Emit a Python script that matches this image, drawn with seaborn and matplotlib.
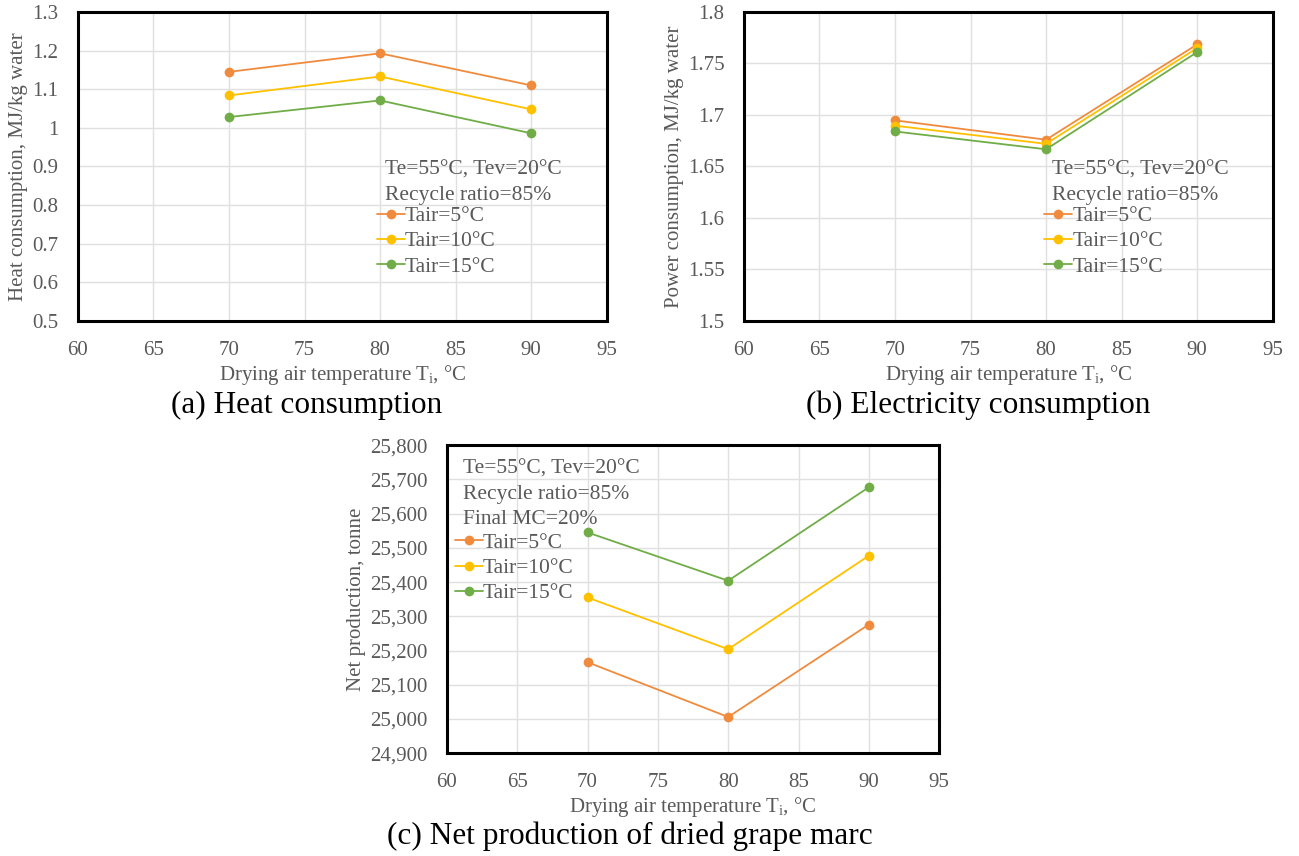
import matplotlib
matplotlib.use("Agg")
import matplotlib.pyplot as plt
from matplotlib.ticker import FuncFormatter, MultipleLocator
from matplotlib.lines import Line2D
import seaborn as sns
import pandas as pd

# Drying air temperature (°C)
drying_temp = [70, 80, 90]
# Ambient air temperature series
tair_labels = ["Tair=5°C", "Tair=10°C", "Tair=15°C"]

# (a) Heat consumption, MJ/kg water
heat_5 = [1.145, 1.193, 1.110]
heat_10 = [1.084, 1.133, 1.048]
heat_15 = [1.028, 1.071, 0.986]

# (b) Power consumption, MJ/kg water
power_5 = [1.6948, 1.6760, 1.7685]
power_10 = [1.6896, 1.6720, 1.7650]
power_15 = [1.6840, 1.6667, 1.7610]

# (c) Net production, tonne
prod_5 = [25166, 25006, 25276]
prod_10 = [25355, 25204, 25477]
prod_15 = [25545, 25404, 25677]

colors = ["#F08B3E", "#FFC000", "#70AD47"]
grey = "#595959"

sns.set_theme(style="white")
plt.rcParams["font.family"] = ["Liberation Serif", "DejaVu Serif"]
plt.rcParams["mathtext.default"] = "regular"


def long_form(series):
    rows = []
    for label, vals in zip(tair_labels, series):
        for t, v in zip(drying_temp, vals):
            rows.append({"T": t, "value": v, "series": label})
    return pd.DataFrame(rows)


def fmt_g(v, pos):
    return f"{v:g}"


def fmt_comma(v, pos):
    return f"{v:,.0f}"


def draw_panel(ax, series, ylim, ystep, yfmt, ylabel, note_lines, note_xy, leg_xy):
    df = long_form(series)
    sns.lineplot(data=df, x="T", y="value", hue="series", palette=colors,
                 marker="o", markersize=7, markeredgewidth=0, linewidth=1.3,
                 ax=ax, legend=False)
    ax.set_xlim(60, 95)
    ax.set_ylim(*ylim)
    ax.xaxis.set_major_locator(MultipleLocator(5))
    ax.yaxis.set_major_locator(MultipleLocator(ystep))
    ax.yaxis.set_major_formatter(FuncFormatter(yfmt))
    ax.grid(True, color="#e0e0e0", linewidth=1.0)
    ax.set_axisbelow(True)
    for s in ax.spines.values():
        s.set_visible(True)
        s.set_color("black")
        s.set_linewidth(2.2)
    ax.tick_params(axis="both", length=0, labelsize=15, labelcolor=grey)
    ax.tick_params(axis="x", pad=14.5)
    ax.tick_params(axis="y", pad=14)
    ax.set_xlabel("Drying air temperature T$_{i}$, °C", fontsize=15, color=grey, labelpad=2)
    ax.set_ylabel(ylabel, fontsize=15, color=grey, labelpad=3)

    x0, y0 = note_xy
    for i, line in enumerate(note_lines):
        ax.text(x0, y0 - i * 0.081, line, transform=ax.transAxes, fontsize=15.5,
                color=grey, ha="left", va="center")

    handles = [Line2D([0], [0], color=c, marker="o", markersize=7,
                      markeredgewidth=0, linewidth=1.3) for c in colors]
    ax.legend(handles, tair_labels, loc="upper left", bbox_to_anchor=leg_xy,
              frameon=False, fontsize=15.5, handlelength=1.3, handletextpad=0.0,
              labelspacing=0.24, borderaxespad=0, borderpad=0,
              labelcolor=grey)


W, H = 1299, 856
fig = plt.figure(figsize=(W / 100, H / 100), dpi=100)
ax_a = fig.add_axes([0.060, 0.625, 0.407, 0.361])
ax_b = fig.add_axes([0.5727, 0.625, 0.407, 0.361])
ax_c = fig.add_axes([0.344, 0.120, 0.379, 0.360])

notes = ["Te=55°C, Tev=20°C", "Recycle ratio=85%"]

draw_panel(ax_a, [heat_5, heat_10, heat_15], (0.5, 1.3), 0.1, fmt_g,
           "Heat consumption, MJ/kg water", notes, (0.580, 0.488), (0.565, 0.372))
draw_panel(ax_b, [power_5, power_10, power_15], (1.5, 1.8), 0.05, fmt_g,
           "Power consumption, MJ/kg water", notes, (0.582, 0.488), (0.568, 0.372))
draw_panel(ax_c, [prod_5, prod_10, prod_15], (24900, 25800), 100, fmt_comma,
           "Net production, tonne", notes + ["Final MC=20%"], (0.033, 0.922),
           (0.016, 0.715))

# Panel captions
captions = [("(a) Heat consumption", 307, 405),
            ("(b) Electricity consumption", 978, 405),
            ("(c) Net production of dried grape marc", 630, 836)]
for text, px, py in captions:
    fig.text(px / W, 1 - py / H, text, fontsize=22.5, color="black",
             ha="center", va="center")

fig.savefig("out.png", dpi=100, facecolor="white")
